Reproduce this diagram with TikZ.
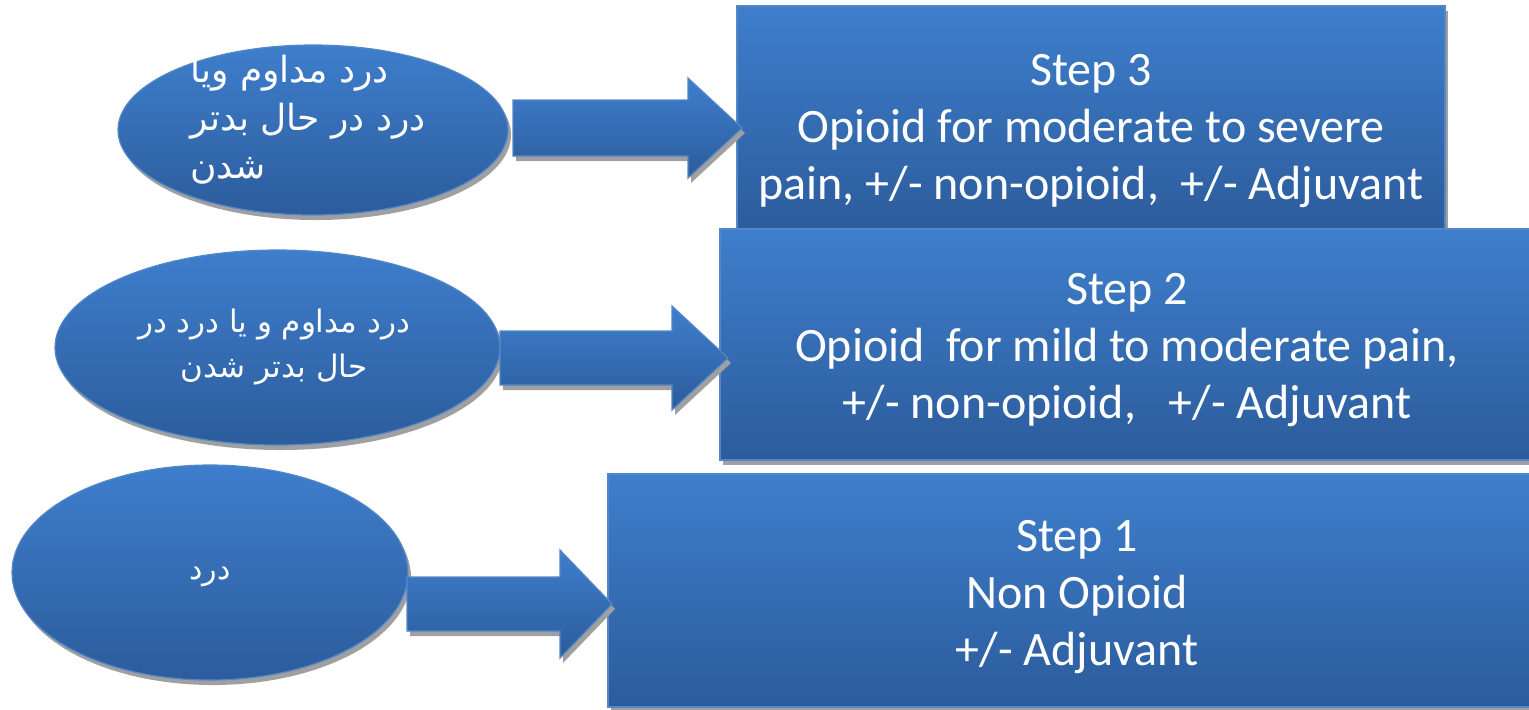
\documentclass[tikz,border=0pt]{standalone}
\usepackage{fontspec}
\setmainfont{Carlito}
\newfontfamily\arabicfont[Script=Arabic]{DejaVu Sans}
\TeXXeTstate=1
\usetikzlibrary{shapes.geometric,shadows}
\definecolor{btop}{RGB}{62,126,204}
\definecolor{bbot}{RGB}{44,92,156}
\definecolor{bedge}{RGB}{84,135,200}
\definecolor{shad}{RGB}{160,160,160}
\tikzset{
  blueshade/.style={top color=btop,bottom color=bbot,draw=bedge,line width=0.6pt},
  shad/.style={drop shadow={shadow xshift=1.5pt,shadow yshift=-2.5pt,fill=shad,opacity=1}},
  stepbox/.style={rectangle,blueshade,shad,inner sep=0pt},
  steptext/.style={text=white,align=center,inner sep=0pt,
     font=\fontsize{24}{28.5}\selectfont},
  painell/.style={ellipse,blueshade,shad,inner sep=0pt},
  ptext/.style={text=white,inner sep=0pt},
  barrow/.style={blueshade,shad}
}
\newcommand{\blockarrow}[6]{% x0, x1, xtip, yc, shaft half, head half
  \path[barrow] (#1,#4-#5) -- (#2,#4-#5) -- (#2,#4-#6) -- (#3,#4) -- (#2,#4+#6)
     -- (#2,#4+#5) -- (#1,#4+#5) -- cycle;}
\begin{document}
\begin{tikzpicture}[x=0.5pt,y=-0.5pt]
\useasboundingbox (0,0) rectangle (1529,709);
\clip (0,0) rectangle (1529,709);
% step boxes
\node[stepbox,minimum width=354pt,minimum height=112pt] (s3) at (1091,118) {};
\node[steptext] (s3t) at ([yshift=-6.5pt]s3.center)
  {Step 3\\Opioid for moderate to severe\\pain, +/- non-opioid,\ \ +/- Adjuvant};
\node[stepbox,minimum width=407pt,minimum height=115.5pt] (s2) at (1127,344.5) {};
\node[steptext] (s2t) at ([yshift=-3pt]s2.center)
  {Step 2\\Opioid\ \ for mild to moderate pain,\\+/- non-opioid,\ \ \ +/- Adjuvant};
\node[stepbox,minimum width=469pt,minimum height=116.5pt] (s1) at (1077,590.5) {};
\node[steptext] (s1t) at ([yshift=-3.5pt]s1.center)
  {Step 1\\Non Opioid\\+/- Adjuvant};
% ellipses
\node[painell,minimum width=195pt,minimum height=85pt] (e3) at (313,130) {};
\node[painell,minimum width=222.5pt,minimum height=97.5pt] (e2) at (277.5,347.5) {};
\node[painell,minimum width=198pt,minimum height=107.5pt] (e1) at (210,572.5) {};
\node[ptext,align=left,anchor=west,font=\arabicfont\fontsize{18}{24}\selectfont] (e3t) at (190,120)
  {\beginR درد مداوم ویا\endR\\\beginR درد در حال بدتر\endR\\\beginR شدن\endR};
\node[ptext,align=center,font=\arabicfont\fontsize{15.5}{22.5}\selectfont] (e2t) at (274,347)
  {\beginR درد مداوم و یا درد در\endR\\\beginR حال بدتر شدن\endR};
\node[ptext,font=\arabicfont\fontsize{15}{16}\selectfont] (e1t) at (210,577) {\beginR درد\endR};
% block arrows
\blockarrow{513}{688}{742}{128}{28}{50}
\blockarrow{500}{672}{728}{358}{27}{52}
\blockarrow{407}{560}{612}{604}{27}{54}
\end{tikzpicture}
\end{document}
